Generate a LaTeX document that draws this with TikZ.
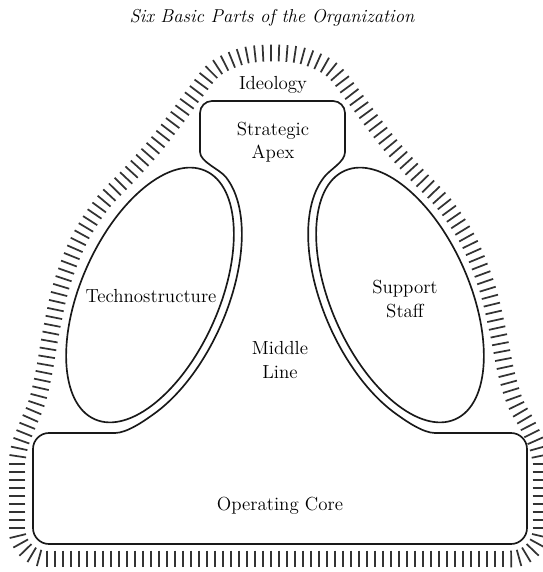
\documentclass[tikz,border=0pt]{standalone}
\usetikzlibrary{decorations.markings}
\begin{document}
\begin{tikzpicture}[x=0.75pt,y=0.75pt,
  outline/.style={draw=black!90, line width=1.25pt, line join=round},
  hatchtick/.style={draw=black!80, line width=1.3pt},
  lbl/.style={font=\fontsize{14.2}{17.6}\selectfont, align=center, inner sep=0pt},
  declare function={
    % left ellipse: centre (150,277), semi-axes 136 and 69, major axis at 66 degrees
    nrm(\t) = sqrt(0.4761*cos(\t)^2 + 1.8496*sin(\t)^2);
    ex(\t) = 150 + 55.31*cos(\t) - 63.03*sin(\t);
    ey(\t) = 277 + 124.24*cos(\t) + 28.06*sin(\t);
    nx(\t) = (0.2806*cos(\t) - 1.2424*sin(\t))/nrm(\t);
    ny(\t) = (0.6303*cos(\t) + 0.5531*sin(\t))/nrm(\t);
    % parallel curve 8 units outside the ellipse
    ox(\t) = ex(\t) + 8*nx(\t);
    oy(\t) = ey(\t) + 8*ny(\t);
  }]
\fill[white] (0,0) rectangle (543,572);
\useasboundingbox (0,0) rectangle (543,572);

% ideology: hatched band around the whole organization
\path[decorate, decoration={markings,
    mark=between positions 0 and 1 step 6pt with {\draw[hatchtick] (0,-6.3pt) -- (0,6.3pt);}}]
  (47,13) arc[start angle=270, end angle=180, radius=30] -- (17,110)
  -- plot[smooth, tension=0.55] coordinates {
     (17,110) (20,127) (28,148) (37,170) (44,200) (51,240) (61,285) (78,330)
     (101,367) (128,396) (154,425) (175,452) (195,479) (215,503) (243,516)
     (273,519) (303,516) (331,503) (351,479) (371,452) (392,425) (418,396)
     (445,367) (469,330) (487,285) (498,240) (506,200) (515,170) (527,148)
     (537,127) (541,110)}
  -- (541,43) arc[start angle=0, end angle=-90, radius=30] -- cycle;

% strategic apex, middle line and operating core as one outline
\draw[outline]
  (115,139) -- (49,139) arc[start angle=90, end angle=180, radius=16]
  -- (33,44) arc[start angle=180, end angle=270, radius=16]
  -- (511,28) arc[start angle=270, end angle=360, radius=16]
  -- (527,123) arc[start angle=0, end angle=90, radius=16]
  -- (435,139) .. controls (423,139) and (405.4,151.4) .. ({550-ox(-140)},{oy(-140)})
  -- plot[samples at={-140,-137.5,...,-15}, variable=\t] ({550-ox(\t)},{oy(\t)})
  .. controls (330.0,402.7) and (345,410) .. (345,420)
  -- (345,459) arc[start angle=0, end angle=90, radius=12]
  -- (212,471) arc[start angle=90, end angle=180, radius=12]
  -- (200,420) .. controls (200,410) and (220.0,402.7) .. ({ox(-15)},{oy(-15)})
  -- plot[samples at={-15,-17.5,...,-140}, variable=\t] ({ox(\t)},{oy(\t)})
  .. controls (144.6,151.4) and (127,139) .. cycle;

% technostructure and support staff
\draw[outline, rotate around={66:(150,277)}] (150,277) ellipse[x radius=136, y radius=69];
\draw[outline, rotate around={114:(400,277)}] (400,277) ellipse[x radius=136, y radius=69];

% labels
\node[anchor=base, inner sep=0pt, font=\fontsize{14}{17}\itshape] (title) at (272,549)
  {Six Basic Parts of the Organization};
\node[lbl, anchor=base] (ideology) at (273,482) {Ideology};
\node[lbl] (apex) at (273,430) {Strategic\\Apex};
\node[lbl] (techno) at (151,276) {Technostructure};
\node[lbl] (support) at (405,273) {Support\\Staff};
\node[lbl] (middle) at (280,212) {Middle\\Line};
\node[lbl] (core) at (280,66) {Operating Core};
\end{tikzpicture}
\end{document}
